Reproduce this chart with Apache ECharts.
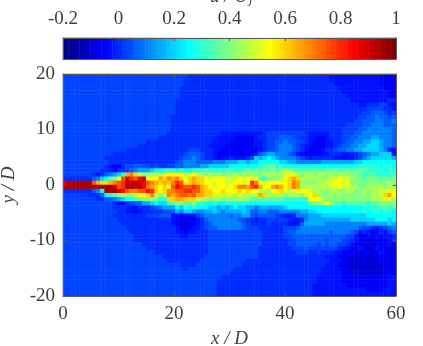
<!DOCTYPE html>
<html>
<head>
<meta charset="utf-8">
<style>
html, body { margin: 0; padding: 0; background: #fff; }
#chart { width: 423px; height: 346px; }
</style>
<script src="https://cdn.jsdelivr.net/npm/echarts@6/dist/echarts.min.js"></script>
</head>
<body>
<div id="chart"></div>
<script>
// one letter per cell; see levelKeys / levelValues
var levelKeys = 'abcdefghijklmnopqrstuvwx';
var levelValues = [-0.1, -0.06, -0.03, 0, 0.03, 0.06, 0.1, 0.15, 0.2, 0.25, 0.3, 0.35,
	0.4, 0.45, 0.5, 0.55, 0.6, 0.65, 0.7, 0.75, 0.8, 0.85, 0.9, 0.95];

// rows from y/D = 20 down to -20, 80 cells each, spaces only for counting
var fieldRows = [
'eeeeeeeeee eeeeeeeeee eeeeeeeeee dddddddddd dddddddddd dddddddddd ddddcccccc ccccccbbbb',
'eeeeeeeeee eeeeeeeeee eeeeeeeeed dddddddddd dddddddddd dddddddddd ddddcccccc ccccccbbbb',
'eeeeeeeeee eeeeeeeeee eeeeeeeeed dddddddddd dddddddddd dddddddddd dddddccccc ccccccbbbb',
'eeeeeeeeee eeeeeeeeee eeeeeeeedd dddddddddd dddddddddd dddddddddd ddddddcccc cccccccbbb',
'eeeeeeeeee eeeeeeeeee eeeeeeeedd dddddddddd dddddddddd dddddddddd dddddddccc ccccccccbb',
'eeeeeeeeee eeeeeeeeee eeeeeeeedd dddddddddd dddddddddd dddddddddd ddddddddcc ccccccccbb',
'eeeeeeeeee eeeeeeeeee eeeeeeeddd dddddddddd dddddddddd dddddddddd dddddddddc ccccccccdd',
'eeeeeeeeee eeeeeeeeee eeeeeeeddd dddddddddd dddddddddd dddddddddd dddddddddd dccdddeecc',
'eeeeeeeeee eeeeeeeeee eeeeeeeddd dddddddddd dddddddddd dddddddddd dddddddddd dddeeeeddc',
'eeeeeeeeee eeeeeeeeee eeeeeeeddd dddddddddd dddddddddd dddddddddd dddddddddd ddeefffede',
'eeeeeeeeee eeeeeeeeee eeeeeedddd dddddddddd dddddddddd dddddddddd dddddddddd deeffgffef',
'eeeeeeeeee eeeeeeeeee eeeeeedddd dddddddddd dddddddddd dddddddddd dddddddddd eefffggffg',
'eeeeeeeeee eeeeeeeeee eeeeeedddd dddddddddd dddddddddd dddddddddd ddddddddee eeffgggfff',
'eeeeeeeeee eeeeeeeeee eeeeeedddd dddddddddd dddddddddd dddddddddd dddddddeee effggggggf',
'eeeeeeeeee eeeeeeeeee eeeeeddddd ddddddddcc ccccccccde eeeeeeeedc ccccdddeee ffgggggggf',
'eeeeeeeeee eeeeeeeeee eeeddddddd dddddddccc cbbbbbcdde eefffeeddc cbbcdddeef fggghhgggf',
'eeeeeeeeee eeeeeeeeee dddddddddd ddddddcccc bbbbbbccde effgffeedc bbbccddeff gghhiihggf',
'eeeeeeeeee eeeeeeeedd dddddddddd dddddccccb bbbbbbccde efgggfedcc bbbccdeffg ghhiiihggf',
'eeeeeeeeee eeeeeddddd dddddddddd eeedddccbb bbbbbbbcde efgggfedcb bbcddeffgg hhiiiihgcc',
'eeeeeeeeee eedddddddd ddddddddde fffeddcbbb bbbbbbcfgh hgggfeccbb bbccdddccd defghhiiic',
'eeeeeeeeee dddddddddd ddddddddef fgfeddcbcc dcccdeihij ihggggfedc dddddccccc deghiiiiih',
'eeeeeeeeee eddddddddd dddddddefg ggffffgggh hhiihiijjj jjiihhgggg gghhhhhhhh iijjjjjjjj',
'eeeeeeeeee dcbbdeeffe ededdeeffg ggghhiiiii jjjjjjjkll lkkjjjjjjj jjjjjjjjjj jkkkkkjkkj',
'eeeeeeeeed dcbddefghh hijjkkkjkj jkkklkkkkl lkklmlmlml mlmnnlllll mllmlmllml lmlkkkkjkk',
'eeeeeeedcd fghikrsqnm mnnnoppppn opnnmnmnmm mnmnmnmmnn nnnoopnmnn mnnmnmnnmm mlkllkkkkl',
'dddddddfgi jlmptwutvw ppprqsrsqp qrqqpopppo oopopoplkm mmnpqrqnnn nnmnoopoon mmlmmmlmlm',
'wxxxxxxtrq qrstuxwxwv tsrqrqsutp qrqqppoppo oppopuspop ppppqsrnmm mnnooppopm mmmmmmmmnm',
'xxxxxxxxxx xxwtuxxwxv srqpqptvut tutrqpoppo pqssrturpp rsrpqsrnno nnonoopoon nmmnnnnmnn',
'dddddddfgj xxxwvtsstt vuqpqssttu uttrqqppqp ppqpqppnnn ppqonooppo nnmmnnmmnn mmnmnnooop',
'eeeeeedddf jklmnmmnpp qsnmnsrstt strrqqoono ononnnnrqn nnnmnnnmop qnmmnmnmmm mmnmnnoqrp',
'eeeeeeeedd ffghijkllm mmmkkqqrrq qqonnmmnmm mmnmnlllll lllkkkkkkp ppnmmmmmnm mmmmnnnoon',
'eeeeeeeeee eedcbdeffh hijiiklmml lmkkjjkjjk jkjkjjjjjj jjjjjjjjjl mmnpmllkll lllkllmmmm',
'eeeeeeeeee eedddcccdd defghhhjik jkjjjiihih ijiihhghhh hhhijjjjjj jjjjjjjjjj jjkkkkllkl',
'eeeeeeeeee eeeddccbcd ddddeefhgi ihgghhihgh hhhihffggf ffggggghhi ijjjjjjjjj jjkjkkjkkj',
'eeeeeeeeee eedddddddd eeefffcbbc bcefgggggg fgghhfefff fedccdgggh hhiiiiiiii iiijjjjjjj',
'eeeeeeeeee eeeddddddd ddddddcbab bbcdfggggg ggfeddcdde edeedcccgh hhhhhhhhhi iiiiijjjij',
'eeeeeeeeee eeeedddddd ddddddcbaa bbcdefgggg gggfedddde ddddcccfhh hhhggggggg ggghhhhhih',
'eeeeeeeeee eeeeeddddd dddddddcbb bccdeffggg gggfeeeddd dddeeefggg gggggggggg gfeedcdefg',
'eeeeeeeeee eeeeeedddd dddddddccb ccdddeeeee eeeeeeeedd dddeffgggg ggggfggggf ecdcbcdcef',
'eeeeeeeeee eeeeeeeddd ddddddddcc dddddeeeee eeeeeeeedd dddeefffff ffffffffee cbbcbcbccd',
'eeeeeeeeee eeeeeeeddd dddddddddd dddddeeeee eeeeeeeedd ddddeeffff fffefffeed cbbabbbbcd',
'eeeeeeeeee eeeeeeeeed dddddddddd dddddeeeee eeeeeeeedd ddddeeffff fefeffeedc bbababbbcb',
'eeeeeeeeee eeeeeeeeee dddddddddd dddddeeeee eeeeeeeddd dddddeeefe eeeeeedccb bcbabcbbab',
'eeeeeeeeee eeeeeeeeee eedddddddd dddddeeeee eeeeeeeddd ddddddeeed dedddccbbb babbabcbbb',
'eeeeeeeeee eeeeeeeeee eeeedddddd ddddeeeeee eeeeeeeddd dddddddddd dddcccbbba abaababbab',
'eeeeeeeeee eeeeeeeeee eeeeeddddd dddeeeeeee eeeedddddd dddddddddd ddddcccbba aabaaabbbb',
'eeeeeeeeee eeeeeeeeee eeeeeeeedd ddeeeeeeee eeeddddddd dddddddddd dddcccbbaa aaaaaaaabb',
'eeeeeeeeee eeeeeeeeee eeeeeeeeed eeeeeeeeee eddddddddd dddddddddd ddcccccbba aaaaaaabbb',
'eeeeeeeeee eeeeeeeeee eeeeeeeeee eeeeeeeeee dddddddddd dddddddddd ddcccccbbb aaaaaaabbb',
'eeeeeeeeee eeeeeeeeee eeeeeeeeee eeeeeeeedd dddddddddd dddddddddd dccccccbbb bbbbbbbbcc',
'eeeeeeeeee eeeeeeeeee eeeeeeeeee eeeeeeeddd dddddddddd dddddddddd dccccccbbb bbbbbbbbcc',
'eeeeeeeeee eeeeeeeeee eeeeeeeeee eeeeeeeddd dddddddddd dddddddddd ccccccccbb bbbbbbbbcc',
'eeeeeeeeee eeeeeeeeee eeeeeeeeee eeeeeeeddd dddddddddd dddddddddd cccccccccc cccbbbbccc',
'eeeeeeeeee eeeeeeeeee eeeeeeeeee eeeeeeeddd dddddddddd dddddddddd cccccccccc cccccccccc'
];

var jetColors = ['#000080', '#0000ff', '#0080ff', '#00ffff', '#80ff80', '#ffff00', '#ff8000', '#ff0000', '#800000'];
var colorTicks = ['-0.2', '0', '0.2', '0.4', '0.6', '0.8', '1'];

// the colour bar strip, left to right
var barValues = [
	-0.2, -0.19, -0.18, -0.17, -0.16, -0.15, -0.14, -0.13, -0.12, -0.11, -0.1,
	-0.09, -0.08, -0.07, -0.06, -0.05, -0.04, -0.03, -0.02, -0.01, 0,
	0.01, 0.02, 0.03, 0.04, 0.05, 0.06, 0.07, 0.08, 0.09, 0.1,
	0.11, 0.12, 0.13, 0.14, 0.15, 0.16, 0.17, 0.18, 0.19, 0.2,
	0.21, 0.22, 0.23, 0.24, 0.25, 0.26, 0.27, 0.28, 0.29, 0.3,
	0.31, 0.32, 0.33, 0.34, 0.35, 0.36, 0.37, 0.38, 0.39, 0.4,
	0.41, 0.42, 0.43, 0.44, 0.45, 0.46, 0.47, 0.48, 0.49, 0.5,
	0.51, 0.52, 0.53, 0.54, 0.55, 0.56, 0.57, 0.58, 0.59, 0.6,
	0.61, 0.62, 0.63, 0.64, 0.65, 0.66, 0.67, 0.68, 0.69, 0.7,
	0.71, 0.72, 0.73, 0.74, 0.75, 0.76, 0.77, 0.78, 0.79, 0.8,
	0.81, 0.82, 0.83, 0.84, 0.85, 0.86, 0.87, 0.88, 0.89, 0.9,
	0.91, 0.92, 0.93, 0.94, 0.95, 0.96, 0.97, 0.98, 0.99, 1
];

var cols = [], rows = [], cells = [];
fieldRows.forEach(function(row, r){
	rows.push(r);
	row.replace(/ /g, '').split('').forEach(function(ch, c){
		if (r === 0) cols.push(c);
		cells.push([c, r, levelValues[levelKeys.indexOf(ch)]]);
	});
});
var barCells = barValues.map(function(v, i){ return [i, 0, v]; });

var font = 'Liberation Serif';
var ink = '#404040';
var edge = '#5a5a5a';
var plot = {left: 63, top: 74, width: 333, height: 222};
var labelStyle = {color: ink, fontFamily: font, fontSize: 19};

var hideAxis = {show: false};

var chart = echarts.init(document.getElementById('chart'));
chart.setOption({
	animation: false,
	backgroundColor: '#fff',
	title: {
		text: '{a|u / U}{b|j}',
		left: 210,
		top: -13,
		padding: 0,
		textStyle: {
			rich: {
				a: {fontFamily: font, fontStyle: 'italic', fontWeight: 'normal', fontSize: 19, color: ink},
				b: {fontFamily: font, fontStyle: 'italic', fontWeight: 'normal', fontSize: 13, color: ink, verticalAlign: 'bottom', padding: [6, 0, 0, 1]}
			}
		}
	},
	grid: [
		{left: plot.left, top: plot.top, width: plot.width, height: plot.height, z: 1, outerBoundsMode: 'none'},
		{left: plot.left, top: plot.top, width: plot.width, height: plot.height, z: 5, outerBoundsMode: 'none'},
		{left: 63, top: 38, width: 333, height: 21, z: 6, outerBoundsMode: 'none'},
		{left: 63, top: 38, width: 333, height: 21, z: 1, outerBoundsMode: 'none'}
	],
	xAxis: [
		{type: 'category', gridIndex: 0, data: cols, show: false},
		{type: 'value', gridIndex: 1, min: 0, max: 60, interval: 20, position: 'bottom',
			name: 'x / D', nameLocation: 'middle', nameGap: 33,
			nameTextStyle: {color: ink, fontFamily: font, fontSize: 19, fontStyle: 'italic'},
			axisLine: {onZero: false, lineStyle: {color: edge, width: 1}},
			axisTick: {inside: true, length: 3, lineStyle: {color: edge}},
			axisLabel: Object.assign({margin: 9, showMinLabel: true, showMaxLabel: true}, labelStyle),
			splitLine: hideAxis, z: 8},
		{type: 'value', gridIndex: 1, min: 0, max: 60, interval: 20, position: 'top',
			axisLine: {onZero: false, lineStyle: {color: edge, width: 1}},
			axisTick: {inside: true, length: 3, lineStyle: {color: edge}},
			axisLabel: hideAxis, splitLine: hideAxis, z: 8},
		{type: 'value', gridIndex: 2, min: -0.2, max: 1, interval: 0.2, position: 'top',
			axisLine: {onZero: false, lineStyle: {color: edge, width: 1}},
			axisTick: {inside: true, length: 3, lineStyle: {color: edge}},
			axisLabel: Object.assign({
				margin: 9, showMinLabel: true, showMaxLabel: true,
				formatter: function(v){ return colorTicks[Math.round((v + 0.2) / 0.2)]; }
			}, labelStyle),
			splitLine: hideAxis, z: 8},
		{type: 'value', gridIndex: 2, min: -0.2, max: 1, interval: 0.2, position: 'bottom',
			axisLine: {onZero: false, lineStyle: {color: edge, width: 1}},
			axisTick: hideAxis, axisLabel: hideAxis, splitLine: hideAxis, z: 8},
		{type: 'category', gridIndex: 3, data: barValues, show: false}
	],
	yAxis: [
		{type: 'category', gridIndex: 0, data: rows, inverse: true, show: false},
		{type: 'value', gridIndex: 1, min: -20, max: 20, interval: 10, position: 'left',
			name: 'y / D', nameLocation: 'middle', nameGap: 31,
			nameTextStyle: {color: ink, fontFamily: font, fontSize: 19, fontStyle: 'italic'},
			axisLine: {onZero: false, lineStyle: {color: edge, width: 1}},
			axisTick: {inside: true, length: 3, lineStyle: {color: edge}},
			axisLabel: Object.assign({margin: 8, showMinLabel: true, showMaxLabel: true}, labelStyle),
			splitLine: hideAxis, z: 8},
		{type: 'value', gridIndex: 1, min: -20, max: 20, interval: 10, position: 'right',
			axisLine: {onZero: false, lineStyle: {color: edge, width: 1}},
			axisTick: {inside: true, length: 3, lineStyle: {color: edge}},
			axisLabel: hideAxis, splitLine: hideAxis, z: 8},
		{type: 'value', gridIndex: 2, min: 0, max: 1, position: 'left',
			axisLine: {onZero: false, lineStyle: {color: edge, width: 1}},
			axisTick: hideAxis, axisLabel: hideAxis, splitLine: hideAxis, z: 8},
		{type: 'value', gridIndex: 2, min: 0, max: 1, position: 'right',
			axisLine: {onZero: false, lineStyle: {color: edge, width: 1}},
			axisTick: hideAxis, axisLabel: hideAxis, splitLine: hideAxis, z: 8},
		{type: 'category', gridIndex: 3, data: ['bar'], show: false}
	],
	visualMap: {
		type: 'continuous',
		seriesIndex: [0, 1],
		min: -0.2,
		max: 1,
		show: false,
		inRange: {color: jetColors}
	},
	series: [
		{
			type: 'heatmap',
			xAxisIndex: 0,
			yAxisIndex: 0,
			data: cells,
			progressive: 0,
			itemStyle: {borderWidth: 0},
			emphasis: {disabled: true}
		},
		{
			type: 'heatmap',
			xAxisIndex: 5,
			yAxisIndex: 5,
			data: barCells,
			progressive: 0,
			itemStyle: {borderWidth: 0},
			emphasis: {disabled: true}
		}
	]
});
</script>
</body>
</html>
